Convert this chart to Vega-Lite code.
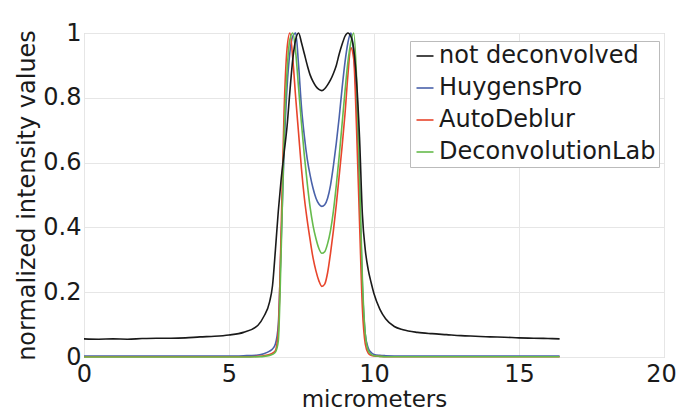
{
  "$schema": "https://vega.github.io/schema/vega-lite/v6.json",
  "autosize": "none",
  "width": 580,
  "height": 324,
  "padding": {"left": 84, "top": 33, "right": 12, "bottom": 55},
  "background": "white",
  "config": {
    "font": "DejaVu Sans",
    "view": {"stroke": "#c8c8c8", "strokeWidth": 1},
    "axis": {
      "labelFont": "DejaVu Sans", "titleFont": "DejaVu Sans",
      "labelFontSize": 24, "titleFontSize": 24,
      "labelColor": "#1a1a1a", "titleColor": "#1a1a1a",
      "titleFontWeight": "normal",
      "gridColor": "#e6e6e6", "gridWidth": 1,
      "domain": false, "ticks": false
    },
    "legend": {
      "labelFont": "DejaVu Sans", "labelFontSize": 24, "labelColor": "#1a1a1a", "labelLimit": 400
    }
  },
  "data": {
    "values": [
      {"s":"HuygensPro","x":0,"y":0.003},{"s":"HuygensPro","x":2,"y":0.003},{"s":"HuygensPro","x":4,"y":0.003},{"s":"HuygensPro","x":5,"y":0.003},{"s":"HuygensPro","x":5.5,"y":0.004},{"s":"HuygensPro","x":6,"y":0.006},{"s":"HuygensPro","x":6.2,"y":0.01},{"s":"HuygensPro","x":6.4,"y":0.018},{"s":"HuygensPro","x":6.5,"y":0.025},{"s":"HuygensPro","x":6.6,"y":0.04},{"s":"HuygensPro","x":6.7,"y":0.1},{"s":"HuygensPro","x":6.8,"y":0.36},{"s":"HuygensPro","x":6.9,"y":0.64},{"s":"HuygensPro","x":7.0,"y":0.83},{"s":"HuygensPro","x":7.1,"y":0.94},{"s":"HuygensPro","x":7.2,"y":0.99},{"s":"HuygensPro","x":7.3,"y":1.0},{"s":"HuygensPro","x":7.4,"y":0.9},{"s":"HuygensPro","x":7.5,"y":0.77},{"s":"HuygensPro","x":7.6,"y":0.68},{"s":"HuygensPro","x":7.7,"y":0.61},{"s":"HuygensPro","x":7.8,"y":0.56},{"s":"HuygensPro","x":7.9,"y":0.52},{"s":"HuygensPro","x":8.0,"y":0.49},{"s":"HuygensPro","x":8.1,"y":0.472},{"s":"HuygensPro","x":8.2,"y":0.465},{"s":"HuygensPro","x":8.3,"y":0.47},{"s":"HuygensPro","x":8.4,"y":0.49},{"s":"HuygensPro","x":8.5,"y":0.53},{"s":"HuygensPro","x":8.6,"y":0.59},{"s":"HuygensPro","x":8.7,"y":0.66},{"s":"HuygensPro","x":8.8,"y":0.74},{"s":"HuygensPro","x":8.9,"y":0.83},{"s":"HuygensPro","x":9.0,"y":0.91},{"s":"HuygensPro","x":9.1,"y":0.97},{"s":"HuygensPro","x":9.2,"y":1.0},{"s":"HuygensPro","x":9.3,"y":0.94},{"s":"HuygensPro","x":9.4,"y":0.78},{"s":"HuygensPro","x":9.5,"y":0.52},{"s":"HuygensPro","x":9.6,"y":0.22},{"s":"HuygensPro","x":9.7,"y":0.07},{"s":"HuygensPro","x":9.8,"y":0.028},{"s":"HuygensPro","x":9.9,"y":0.014},{"s":"HuygensPro","x":10.0,"y":0.008},{"s":"HuygensPro","x":10.2,"y":0.005},{"s":"HuygensPro","x":10.4,"y":0.004},{"s":"HuygensPro","x":11,"y":0.003},{"s":"HuygensPro","x":12,"y":0.003},{"s":"HuygensPro","x":14,"y":0.003},{"s":"HuygensPro","x":16.4,"y":0.003},

      {"s":"AutoDeblur","x":0,"y":0.001},{"s":"AutoDeblur","x":2,"y":0.001},{"s":"AutoDeblur","x":4,"y":0.001},{"s":"AutoDeblur","x":5,"y":0.001},{"s":"AutoDeblur","x":5.5,"y":0.001},{"s":"AutoDeblur","x":6,"y":0.002},{"s":"AutoDeblur","x":6.2,"y":0.004},{"s":"AutoDeblur","x":6.4,"y":0.008},{"s":"AutoDeblur","x":6.5,"y":0.012},{"s":"AutoDeblur","x":6.6,"y":0.02},{"s":"AutoDeblur","x":6.7,"y":0.08},{"s":"AutoDeblur","x":6.8,"y":0.4},{"s":"AutoDeblur","x":6.9,"y":0.76},{"s":"AutoDeblur","x":7.0,"y":0.95},{"s":"AutoDeblur","x":7.1,"y":1.0},{"s":"AutoDeblur","x":7.2,"y":0.92},{"s":"AutoDeblur","x":7.3,"y":0.8},{"s":"AutoDeblur","x":7.4,"y":0.69},{"s":"AutoDeblur","x":7.5,"y":0.58},{"s":"AutoDeblur","x":7.6,"y":0.49},{"s":"AutoDeblur","x":7.7,"y":0.42},{"s":"AutoDeblur","x":7.8,"y":0.36},{"s":"AutoDeblur","x":7.9,"y":0.305},{"s":"AutoDeblur","x":8.0,"y":0.265},{"s":"AutoDeblur","x":8.1,"y":0.235},{"s":"AutoDeblur","x":8.2,"y":0.218},{"s":"AutoDeblur","x":8.3,"y":0.225},{"s":"AutoDeblur","x":8.4,"y":0.26},{"s":"AutoDeblur","x":8.5,"y":0.32},{"s":"AutoDeblur","x":8.6,"y":0.39},{"s":"AutoDeblur","x":8.7,"y":0.47},{"s":"AutoDeblur","x":8.8,"y":0.56},{"s":"AutoDeblur","x":8.9,"y":0.65},{"s":"AutoDeblur","x":9.0,"y":0.75},{"s":"AutoDeblur","x":9.1,"y":0.87},{"s":"AutoDeblur","x":9.2,"y":0.955},{"s":"AutoDeblur","x":9.3,"y":0.92},{"s":"AutoDeblur","x":9.4,"y":0.7},{"s":"AutoDeblur","x":9.5,"y":0.42},{"s":"AutoDeblur","x":9.6,"y":0.15},{"s":"AutoDeblur","x":9.7,"y":0.04},{"s":"AutoDeblur","x":9.8,"y":0.012},{"s":"AutoDeblur","x":9.9,"y":0.005},{"s":"AutoDeblur","x":10.0,"y":0.003},{"s":"AutoDeblur","x":10.2,"y":0.002},{"s":"AutoDeblur","x":10.4,"y":0.001},{"s":"AutoDeblur","x":11,"y":0.001},{"s":"AutoDeblur","x":12,"y":0.001},{"s":"AutoDeblur","x":14,"y":0.001},{"s":"AutoDeblur","x":16.4,"y":0.001},

      {"s":"DeconvolutionLab","x":0,"y":0.0},{"s":"DeconvolutionLab","x":2,"y":0.0},{"s":"DeconvolutionLab","x":4,"y":0.0},{"s":"DeconvolutionLab","x":5,"y":0.0},{"s":"DeconvolutionLab","x":5.5,"y":0.0},{"s":"DeconvolutionLab","x":6,"y":0.001},{"s":"DeconvolutionLab","x":6.2,"y":0.002},{"s":"DeconvolutionLab","x":6.4,"y":0.005},{"s":"DeconvolutionLab","x":6.5,"y":0.008},{"s":"DeconvolutionLab","x":6.6,"y":0.015},{"s":"DeconvolutionLab","x":6.7,"y":0.05},{"s":"DeconvolutionLab","x":6.8,"y":0.33},{"s":"DeconvolutionLab","x":6.9,"y":0.68},{"s":"DeconvolutionLab","x":7.0,"y":0.88},{"s":"DeconvolutionLab","x":7.1,"y":0.98},{"s":"DeconvolutionLab","x":7.2,"y":1.0},{"s":"DeconvolutionLab","x":7.3,"y":0.94},{"s":"DeconvolutionLab","x":7.4,"y":0.83},{"s":"DeconvolutionLab","x":7.5,"y":0.72},{"s":"DeconvolutionLab","x":7.6,"y":0.62},{"s":"DeconvolutionLab","x":7.7,"y":0.535},{"s":"DeconvolutionLab","x":7.8,"y":0.46},{"s":"DeconvolutionLab","x":7.9,"y":0.405},{"s":"DeconvolutionLab","x":8.0,"y":0.365},{"s":"DeconvolutionLab","x":8.1,"y":0.335},{"s":"DeconvolutionLab","x":8.2,"y":0.32},{"s":"DeconvolutionLab","x":8.3,"y":0.325},{"s":"DeconvolutionLab","x":8.4,"y":0.35},{"s":"DeconvolutionLab","x":8.5,"y":0.39},{"s":"DeconvolutionLab","x":8.6,"y":0.45},{"s":"DeconvolutionLab","x":8.7,"y":0.53},{"s":"DeconvolutionLab","x":8.8,"y":0.62},{"s":"DeconvolutionLab","x":8.9,"y":0.72},{"s":"DeconvolutionLab","x":9.0,"y":0.82},{"s":"DeconvolutionLab","x":9.1,"y":0.91},{"s":"DeconvolutionLab","x":9.2,"y":0.97},{"s":"DeconvolutionLab","x":9.3,"y":1.0},{"s":"DeconvolutionLab","x":9.4,"y":0.86},{"s":"DeconvolutionLab","x":9.5,"y":0.56},{"s":"DeconvolutionLab","x":9.6,"y":0.24},{"s":"DeconvolutionLab","x":9.7,"y":0.07},{"s":"DeconvolutionLab","x":9.8,"y":0.02},{"s":"DeconvolutionLab","x":9.9,"y":0.008},{"s":"DeconvolutionLab","x":10.0,"y":0.004},{"s":"DeconvolutionLab","x":10.2,"y":0.002},{"s":"DeconvolutionLab","x":10.4,"y":0.001},{"s":"DeconvolutionLab","x":11,"y":0.001},{"s":"DeconvolutionLab","x":12,"y":0.001},{"s":"DeconvolutionLab","x":14,"y":0.001},{"s":"DeconvolutionLab","x":16.4,"y":0.001},

      {"s":"not deconvolved","x":0,"y":0.056},{"s":"not deconvolved","x":0.5,"y":0.055},{"s":"not deconvolved","x":1,"y":0.056},{"s":"not deconvolved","x":1.5,"y":0.055},{"s":"not deconvolved","x":2,"y":0.057},{"s":"not deconvolved","x":2.5,"y":0.058},{"s":"not deconvolved","x":3,"y":0.058},{"s":"not deconvolved","x":3.5,"y":0.059},{"s":"not deconvolved","x":4,"y":0.062},{"s":"not deconvolved","x":4.5,"y":0.064},{"s":"not deconvolved","x":5,"y":0.068},{"s":"not deconvolved","x":5.5,"y":0.076},{"s":"not deconvolved","x":6,"y":0.098},{"s":"not deconvolved","x":6.2,"y":0.125},{"s":"not deconvolved","x":6.4,"y":0.17},{"s":"not deconvolved","x":6.5,"y":0.22},{"s":"not deconvolved","x":6.6,"y":0.33},{"s":"not deconvolved","x":6.7,"y":0.45},{"s":"not deconvolved","x":6.8,"y":0.55},{"s":"not deconvolved","x":6.9,"y":0.63},{"s":"not deconvolved","x":7.0,"y":0.71},{"s":"not deconvolved","x":7.1,"y":0.82},{"s":"not deconvolved","x":7.2,"y":0.92},{"s":"not deconvolved","x":7.3,"y":0.98},{"s":"not deconvolved","x":7.4,"y":1.0},{"s":"not deconvolved","x":7.5,"y":0.97},{"s":"not deconvolved","x":7.6,"y":0.935},{"s":"not deconvolved","x":7.7,"y":0.9},{"s":"not deconvolved","x":7.8,"y":0.87},{"s":"not deconvolved","x":7.9,"y":0.85},{"s":"not deconvolved","x":8.0,"y":0.835},{"s":"not deconvolved","x":8.1,"y":0.826},{"s":"not deconvolved","x":8.2,"y":0.822},{"s":"not deconvolved","x":8.3,"y":0.828},{"s":"not deconvolved","x":8.4,"y":0.84},{"s":"not deconvolved","x":8.5,"y":0.855},{"s":"not deconvolved","x":8.6,"y":0.875},{"s":"not deconvolved","x":8.7,"y":0.9},{"s":"not deconvolved","x":8.8,"y":0.935},{"s":"not deconvolved","x":8.9,"y":0.965},{"s":"not deconvolved","x":9.0,"y":0.99},{"s":"not deconvolved","x":9.1,"y":1.0},{"s":"not deconvolved","x":9.2,"y":0.99},{"s":"not deconvolved","x":9.3,"y":0.95},{"s":"not deconvolved","x":9.4,"y":0.85},{"s":"not deconvolved","x":9.5,"y":0.68},{"s":"not deconvolved","x":9.6,"y":0.44},{"s":"not deconvolved","x":9.7,"y":0.33},{"s":"not deconvolved","x":9.8,"y":0.27},{"s":"not deconvolved","x":9.9,"y":0.23},{"s":"not deconvolved","x":10.0,"y":0.195},{"s":"not deconvolved","x":10.2,"y":0.148},{"s":"not deconvolved","x":10.4,"y":0.118},{"s":"not deconvolved","x":10.7,"y":0.094},{"s":"not deconvolved","x":11,"y":0.084},{"s":"not deconvolved","x":11.5,"y":0.076},{"s":"not deconvolved","x":12,"y":0.072},{"s":"not deconvolved","x":12.5,"y":0.069},{"s":"not deconvolved","x":13,"y":0.066},{"s":"not deconvolved","x":13.5,"y":0.064},{"s":"not deconvolved","x":14,"y":0.062},{"s":"not deconvolved","x":14.5,"y":0.061},{"s":"not deconvolved","x":15,"y":0.059},{"s":"not deconvolved","x":15.5,"y":0.058},{"s":"not deconvolved","x":16,"y":0.057},{"s":"not deconvolved","x":16.4,"y":0.056}
    ]
  },
  "mark": {"type": "line", "strokeWidth": 1.6, "interpolate": "monotone"},
  "encoding": {
    "x": {
      "field": "x", "type": "quantitative",
      "scale": {"domain": [0, 20], "nice": false, "zero": false},
      "axis": {"values": [0, 5, 10, 15, 20], "title": "micrometers", "labelFlush": false, "labelPadding": 5, "titleY": 49, "titleBaseline": "alphabetic", "titleFontSize": 23, "labelOverlap": false, "labelOffset": {"expr": "datum.value == 20 ? -3 : 0"}}
    },
    "y": {
      "field": "y", "type": "quantitative",
      "scale": {"domain": [0, 1], "nice": false},
      "axis": {"values": [0, 0.2, 0.4, 0.6, 0.8, 1], "format": "~g", "title": "normalized intensity values", "labelPadding": 3, "titleX": -50, "titleBaseline": "alphabetic", "labelFlush": false, "labelOverlap": false}
    },
    "color": {
      "field": "s", "type": "nominal",
      "scale": {
        "domain": ["not deconvolved", "HuygensPro", "AutoDeblur", "DeconvolutionLab"],
        "range": ["#1a1a1a", "#4a62aa", "#e8452c", "#66bb4c"]
      },
      "legend": {
        "title": null, "orient": "none", "legendX": 326, "legendY": 8,
        "symbolType": "stroke", "symbolSize": 289, "symbolStrokeWidth": 1.6,
        "rowPadding": 8, "padding": 3, "labelOffset": 2,
        "strokeColor": "#bbbbbb", "fillColor": "white", "offset": 0
      }
    },
    "order": {"field": "s"}
  }
}
